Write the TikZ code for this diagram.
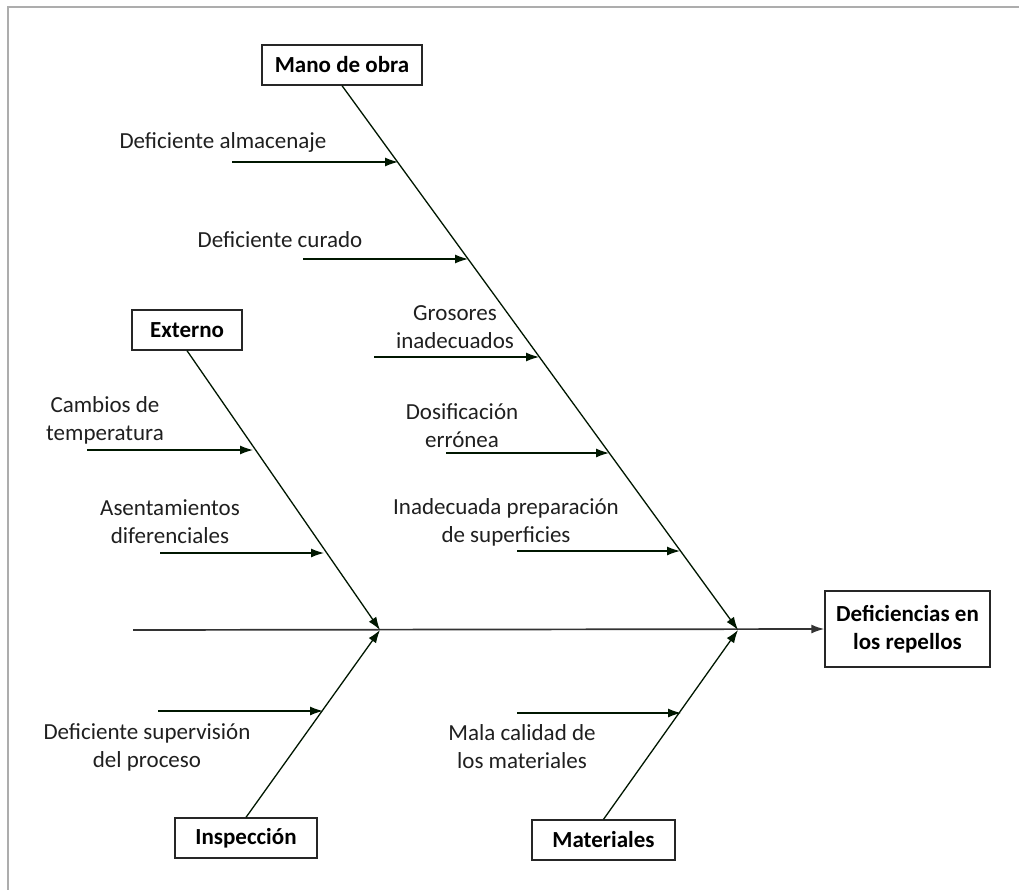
\documentclass[tikz,border=0pt]{standalone}
\usepackage{fontspec}
\setmainfont{Carlito}
\usetikzlibrary{arrows.meta}
\begin{document}
\begin{tikzpicture}[
    x=1pt, y=-1pt,
    >={Latex[length=13pt, width=9pt]},
    every node/.style={font=\fontsize{23}{28}\selectfont, align=center, text=black!88},
    box/.style={draw=black!85, line width=1.3pt, inner sep=0pt, text=black, font=\fontsize{23}{28}\selectfont\bfseries},
    arrow/.style={->, line width=1.3pt, draw=black!85!green!60!black}
]
  \useasboundingbox (0,0) rectangle (1019,890);
  \draw[line width=2.5pt, draw=black!32] (8,890) -- (8,7) -- (1019,7);

  % Categories and effect
  \node[box, minimum width=160, minimum height=40] (mano) at (342,65) {Mano de obra};
  \node[box, minimum width=110, minimum height=40] (externo) at (187,330) {Externo};
  \node[box, minimum width=142, minimum height=40] (inspeccion) at (246,838) {Inspección};
  \node[box, minimum width=143, minimum height=40] (materiales) at (603.5,840) {Materiales};
  \node[box, minimum width=165, minimum height=76] (efecto) at (907.5,629) {Deficiencias en\\los repellos};

  % Main line
  \coordinate (tail) at (133,630);
  \coordinate (headL) at (380,630);
  \coordinate (headR) at (738,630);
  \draw[arrow, draw=black!80, line width=1.7pt] (tail) -- (efecto.west);
  \draw[arrow] (externo.south) -- (headL);
  \draw[arrow] (inspeccion.north) -- (headL);
  \draw[arrow] (mano.south) -- (headR);
  \draw[arrow] (materiales.north) -- (headR);

  % Causes: Mano de obra
  \node (almacenaje) at (223,142) {Deficiente almacenaje};
  \coordinate (m1) at (232,162);  \coordinate (m1e) at (398,162);
  \draw[arrow] (m1) -- (m1e);
  \node (curado) at (280,240) {Deficiente curado};
  \coordinate (m2) at (303,259);  \coordinate (m2e) at (468,259);
  \draw[arrow] (m2) -- (m2e);
  \node (grosores) at (455,327) {Grosores\\inadecuados};
  \coordinate (m3) at (374,357);  \coordinate (m3e) at (539,357);
  \draw[arrow] (m3) -- (m3e);
  \node (dosificacion) at (462,426) {Dosificación\\errónea};
  \coordinate (m4) at (446,453);  \coordinate (m4e) at (609,453);
  \draw[arrow] (m4) -- (m4e);
  \node (preparacion) at (506,522) {Inadecuada preparación\\de superficies};
  \coordinate (m5) at (517,551);  \coordinate (m5e) at (680,551);
  \draw[arrow] (m5) -- (m5e);

  % Causes: Externo
  \node (cambios) at (105,420) {Cambios de\\temperatura};
  \coordinate (e1) at (87,450);   \coordinate (e1e) at (253,450);
  \draw[arrow] (e1) -- (e1e);
  \node (asentamientos) at (170,522) {Asentamientos\\diferenciales};
  \coordinate (e2) at (160,553);  \coordinate (e2e) at (324,553);
  \draw[arrow] (e2) -- (e2e);

  % Causes: Inspeccion and Materiales
  \node (supervision) at (147,747) {Deficiente supervisión\\del proceso};
  \coordinate (i1) at (158,711);  \coordinate (i1e) at (323,711);
  \draw[arrow] (i1) -- (i1e);
  \node (calidad) at (522,747) {Mala calidad de\\los materiales};
  \coordinate (t1) at (517,713);  \coordinate (t1e) at (681,713);
  \draw[arrow] (t1) -- (t1e);
\end{tikzpicture}
\end{document}
